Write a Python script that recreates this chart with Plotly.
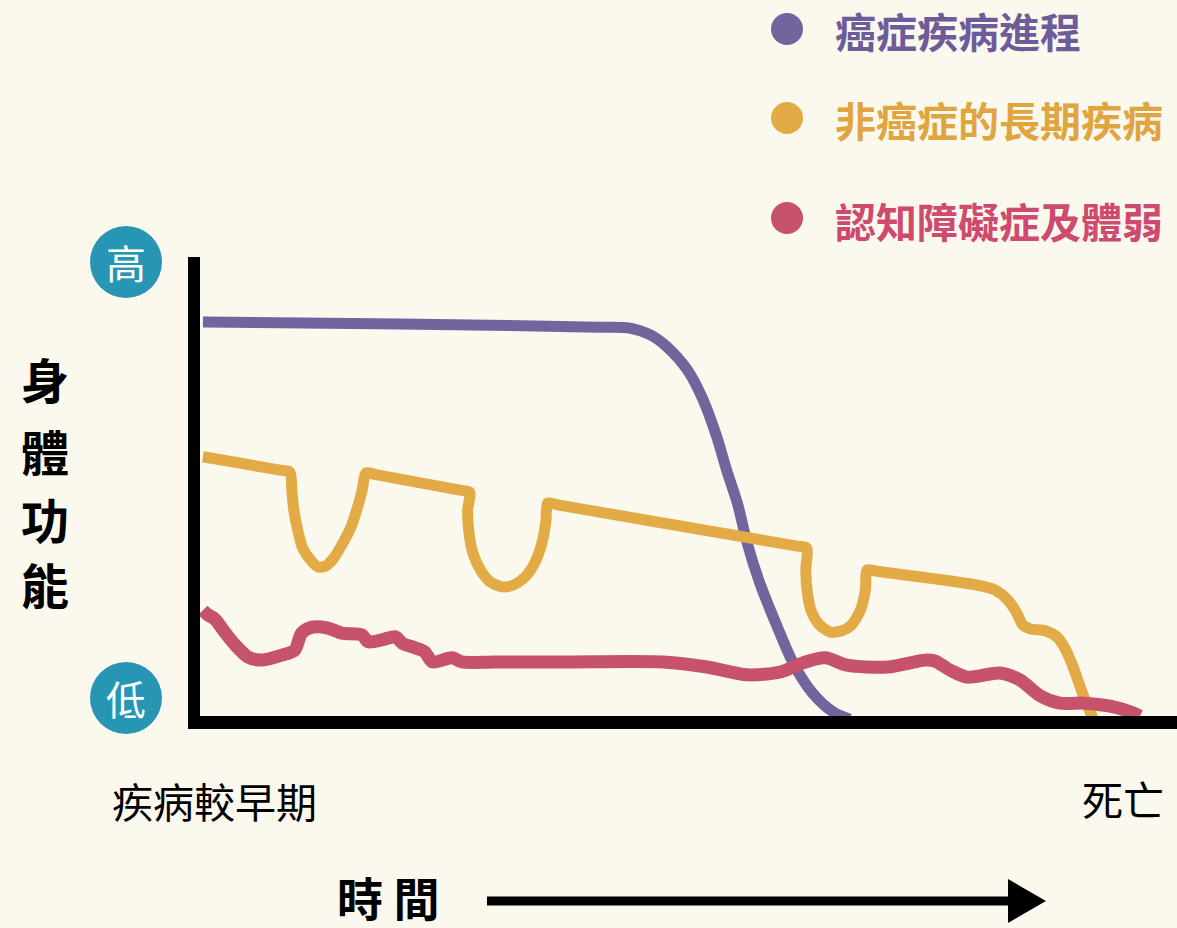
import plotly.graph_objects as go

# ---- data (time 0-100, physical function 0-100) ----
cancer_x = [0.3, 20.5, 40.9, 44.0, 46.1, 47.8, 49.9, 51.5, 52.9, 53.9, 55.0, 56.0, 57.3, 59.1, 60.7, 62.7, 64.8, 66.5]
cancer_y = [86.0, 85.6, 84.9, 84.7, 83.2, 80.6, 75.5, 69.0, 60.9, 53.7, 46.5, 37.8, 29.0, 19.4, 11.6, 5.0, 0.9, -0.7]

organ_x = [0.3, 8.2, 9.2, 9.4, 9.6, 10.0, 10.5, 11.3, 12.1, 12.9, 13.7, 14.5, 15.4, 16.1, 16.6, 17.0, 18.0,
           26.6, 27.6, 27.4, 27.5, 27.9, 28.7, 29.7, 30.9, 32.1, 33.3, 34.3, 35.0, 35.4, 35.6, 36.6,
           61.1, 62.1, 62.0, 62.2, 62.6, 63.4, 64.5, 65.7, 66.7, 67.6, 68.1, 68.3, 69.3,
           79.5, 81.4, 82.7, 83.6, 84.2, 85.0, 86.5, 87.7, 88.5, 89.3, 90.1, 90.8, 91.4]
organ_y = [56.6, 53.7, 53.3, 49.3, 45.0, 40.6, 36.7, 34.1, 32.5, 32.8, 34.5, 37.3, 41.0, 45.4, 49.3, 53.1, 52.7,
           49.3, 48.9, 45.0, 40.6, 35.8, 31.9, 29.3, 28.2, 28.6, 30.4, 33.6, 37.8, 42.4, 46.5, 46.1,
           37.1, 36.7, 31.9, 26.4, 22.7, 19.9, 18.3, 18.6, 19.9, 23.1, 27.5, 31.9, 31.6,
           28.6, 27.5, 25.3, 22.5, 19.9, 19.0, 18.6, 17.3, 14.9, 11.1, 6.3, 2.4, -0.4]

frail_x = [0.3, 0.8, 1.5, 2.6, 3.6, 4.9, 6.3, 8.4, 9.7, 10.4, 11.5, 13.1, 14.5, 16.6, 17.2, 18.6, 20.0, 20.7,
           22.0, 23.0, 23.8, 25.8, 26.8, 30.2, 37.2, 47.4, 51.9, 56.0, 59.4, 61.7, 64.0, 66.2, 70.4, 74.2,
           75.2, 76.8, 78.5, 81.9, 83.9, 86.0, 88.0, 90.6, 93.5, 95.5, 96.2]
frail_y = [23.1, 22.1, 21.2, 18.1, 15.5, 12.9, 12.2, 13.3, 14.4, 18.1, 19.4, 19.2, 18.1, 17.7, 16.2, 16.6, 17.3, 15.9,
           14.9, 14.0, 11.8, 12.7, 11.8, 11.8, 11.8, 11.8, 10.7, 9.0, 9.6, 11.6, 12.7, 11.1, 10.7, 12.2,
           12.0, 10.0, 8.5, 9.4, 7.9, 4.4, 2.8, 2.8, 2.0, 0.7, 0.0]

series_names = ["癌症疾病進程", "非癌症的長期疾病", "認知障礙症及體弱"]
y_labels = ["高", "低"]
y_title = ["身", "體", "功", "能"]
x_labels = ["疾病較早期", "死亡"]
x_title = "時 間"

# ---- styling ----
BG = "#fbf8ee"
PURPLE, GOLD, PINK = "#74649d", "#e3ab45", "#c6526c"
LEG_COLORS = ["#6e5c9a", "#e0a53e", "#cf4a6f"]
TEAL = "#2696b4"
FONT = "Noto Sans CJK TC, Noto Sans CJK SC, sans-serif"

W, H = 1177, 928
L, R, T, B = 200, 1177, 258, 716  # plot area in pixels


def px(x):
    return (x - L) / (R - L)


def py(y):
    return (B - y) / (B - T)


fig = go.Figure()
fig.add_trace(go.Scatter(x=cancer_x, y=cancer_y, mode="lines", name=series_names[0],
                         line=dict(color=PURPLE, width=11, shape="spline", smoothing=0.8)))
fig.add_trace(go.Scatter(x=organ_x, y=organ_y, mode="lines", name=series_names[1],
                         line=dict(color=GOLD, width=11, shape="spline", smoothing=0.7)))
fig.add_trace(go.Scatter(x=frail_x, y=frail_y, mode="lines", name=series_names[2],
                         line=dict(color=PINK, width=13, shape="spline", smoothing=0.8)))

shapes = []
# axes
shapes.append(dict(type="rect", xref="paper", yref="paper", x0=px(188), x1=px(200), y0=py(729), y1=py(257),
                   fillcolor="black", line_width=0, layer="above"))
shapes.append(dict(type="rect", xref="paper", yref="paper", x0=px(188), x1=px(1177), y0=py(729), y1=py(716),
                   fillcolor="black", line_width=0, layer="above"))
# teal circles
for cy in (262, 698):
    shapes.append(dict(type="circle", xref="paper", yref="paper", x0=px(90), x1=px(162),
                       y0=py(cy + 36), y1=py(cy - 36), fillcolor=TEAL, line_width=0))
# legend dots
for cy, c in zip((29, 118, 218), [PURPLE, GOLD, PINK]):
    shapes.append(dict(type="circle", xref="paper", yref="paper", x0=px(771), x1=px(803),
                       y0=py(cy + 16), y1=py(cy - 16), fillcolor=c, line_width=0))
# time arrow
shapes.append(dict(type="line", xref="paper", yref="paper", x0=px(487), x1=px(1015), y0=py(901), y1=py(901),
                   line=dict(color="black", width=9)))
shapes.append(dict(type="path", xref="paper", yref="paper",
                   path=f"M {px(1008)} {py(879)} L {px(1046)} {py(901)} L {px(1008)} {py(923)} Z",
                   fillcolor="black", line_width=0))

ann = []
for txt, cy, c in zip(series_names, (30, 119, 220), LEG_COLORS):
    ann.append(dict(text=txt, x=px(833), y=py(cy), xref="paper", yref="paper", xanchor="left", yanchor="middle",
                    showarrow=False, font=dict(family=FONT, size=41, color=c, weight="bold")))
for txt, cy in zip(y_labels, (262, 698)):
    ann.append(dict(text=txt, x=px(126), y=py(cy), xref="paper", yref="paper", xanchor="center", yanchor="middle",
                    showarrow=False, font=dict(family=FONT, size=40, color="white")))
for txt, cy in zip(y_title, (378, 450, 518, 583)):
    ann.append(dict(text=txt, x=px(45), y=py(cy), xref="paper", yref="paper", xanchor="center", yanchor="middle",
                    showarrow=False, font=dict(family=FONT, size=48, color="black", weight="bold")))
ann.append(dict(text=x_labels[0], x=px(110), y=py(800), xref="paper", yref="paper", xanchor="left", yanchor="middle",
                showarrow=False, font=dict(family=FONT, size=41, color="black")))
ann.append(dict(text=x_labels[1], x=px(1166), y=py(798), xref="paper", yref="paper", xanchor="right", yanchor="middle",
                showarrow=False, font=dict(family=FONT, size=41, color="black")))
ann.append(dict(text=x_title, x=px(388), y=py(896), xref="paper", yref="paper", xanchor="center", yanchor="middle",
                showarrow=False, font=dict(family=FONT, size=46, color="black", weight="bold")))

fig.update_layout(
    width=W, height=H,
    margin=dict(l=L, r=W - R, t=T, b=H - B, pad=0),
    paper_bgcolor=BG, plot_bgcolor=BG,
    showlegend=False,
    shapes=shapes, annotations=ann,
    xaxis=dict(range=[0, 100], visible=False, fixedrange=True),
    yaxis=dict(range=[0, 100], visible=False, fixedrange=True),
)

fig.write_html("out.html", config={"displayModeBar": False},
               post_script="document.body.style.margin='0';document.body.style.overflow='hidden';document.body.style.background='" + BG + "';")
